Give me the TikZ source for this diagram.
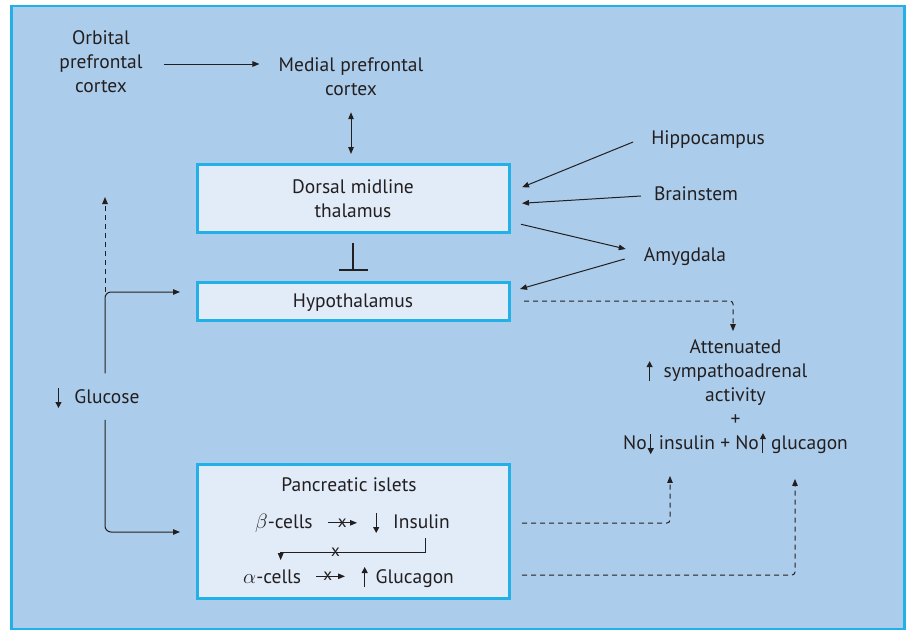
\documentclass[tikz,border=0pt]{standalone}
\usepackage{fontspec}
\setmainfont{PT Sans}
\usetikzlibrary{arrows.meta}
\definecolor{panel}{HTML}{ABCDEB}
\definecolor{rim}{HTML}{22B0E6}
\definecolor{boxfill}{HTML}{E1ECF8}
\definecolor{ink}{HTML}{231F20}
\newcommand{\dnarr}{\tikz[baseline=0pt]\draw[ink,line width=1.1pt,-{Triangle[length=6pt,width=6pt]}] (0,15pt) -- (0,-5pt);}
\newcommand{\uparr}{\tikz[baseline=0pt]\draw[ink,line width=1.1pt,-{Triangle[length=6pt,width=6pt]}] (0,-4pt) -- (0,16pt);}
\begin{document}
\begin{tikzpicture}[x=1pt,y=-1pt,ink,font=\fontsize{19.5}{24}\selectfont,
  txt/.style={inner sep=0pt,align=center},
  box/.style={draw=rim,fill=boxfill,line width=3pt,minimum width=312pt,inner sep=0pt,align=center},
  arr/.style={line width=1pt,-{Triangle[length=7pt,width=5.5pt]}},
  dbl/.style={line width=1pt,{Triangle[length=7pt,width=5.5pt]}-{Triangle[length=7pt,width=5.5pt]}},
  dsh/.style={arr,dash pattern=on 5pt off 4pt},
  cross/.style={inner sep=0pt,font=\fontsize{17}{17}\selectfont}]
	\useasboundingbox (0,0) rectangle (908,630);
	\draw[rim,fill=panel,line width=2.5pt] (11.5,6) rectangle (904.5,629);
	% boxes
	\node[box,minimum height=67.5pt] (thal) at (353,198.25) {Dorsal midline\\thalamus};
	\node[box,minimum height=38pt,text depth=0pt] (hypo) at (353,301) {Hypothalamus};
	\node[box,minimum height=134pt] (panc) at (353,531) {};
	% labels
	\node[txt] (orb) at (101,62) {Orbital\\prefrontal\\cortex};
	\node[txt] (mpfc) at (351,77) {Medial prefrontal\\cortex};
	\node[txt] (hippo) at (708,140) {Hippocampus};
	\node[txt] (brain) at (696,194) {Brainstem};
	\node[txt] (amyg) at (685,257) {Amygdala};
	\node[txt] (att) at (735.5,397) {Attenuated\\\llap{\uparr\hspace{11pt}}sympathoadrenal\\activity\\+\\No\hspace{1pt}\dnarr\ insulin + No\hspace{1pt}\uparr\ glucagon};
	\node[txt] (glu) at (107,398) {\llap{\dnarr\hspace{13pt}}Glucose};
	% islets
	\node[txt] (pi) at (349,485) {Pancreatic islets};
	\node[txt,anchor=base west] (beta) at (255,528) {$\beta$-cells};
	\node[txt,anchor=base west] (ins) at (373,528) {\dnarr\hspace{14pt}Insulin};
	\node[txt,anchor=base west] (alpha) at (243,583) {$\alpha$-cells};
	\node[txt,anchor=base west] (glc) at (361.5,583) {\uparr\hspace{8pt}Glucagon};
	% cortex and thalamus
	\coordinate (ofs) at ([yshift=-2pt]orb.east);
	\draw[arr,shorten <=21pt,shorten >=19pt] (ofs) -- (ofs -| mpfc.west);
	\draw[dbl,shorten <=16pt,shorten >=9pt] (mpfc.south) -- (mpfc.south |- thal.north);
	\draw[line width=1.6pt,-{Bar[width=29pt,line width=2pt]},shorten <=9.5pt,shorten >=9.5pt] (thal.south) -- (thal.south |- hypo.north);
	\draw[arr] ([xshift=-18pt,yshift=-2pt]hippo.west) -- ([xshift=11.5pt,yshift=11pt]thal.east);
	\draw[arr] ([xshift=-13pt,yshift=-2pt]brain.west) -- ([xshift=11.5pt,yshift=-5pt]thal.east);
	\draw[arr] ([xshift=10.5pt,yshift=-26pt]thal.east) -- ([xshift=-18pt,yshift=8pt]amyg.west);
	\draw[arr] ([xshift=-19pt,yshift=-2pt]amyg.west) -- ([xshift=9.5pt,yshift=12pt]hypo.east);
	% glucose
	\coordinate (gup) at (105,197);
	\coordinate (hyin) at ([xshift=-15.5pt,yshift=9pt]hypo.west);
	\coordinate (pcin) at ([xshift=-15.5pt,yshift=-1pt]panc.west);
	\draw[arr,rounded corners=6pt,shorten <=14pt] (glu.north -| gup) |- (hyin);
	\draw[dsh] (gup |- hyin) -- (gup);
	\draw[arr,rounded corners=6pt,shorten <=11pt] (glu.south -| gup) |- (pcin);
	% outputs
	\draw[dsh,rounded corners=3pt,shorten >=8pt] ([xshift=13.5pt]hypo.east) -| ([xshift=-2.5pt]att.north);
	\draw[dsh,rounded corners=3pt,shorten >=21pt] ([xshift=11.5pt,yshift=8pt]panc.east) -| ([xshift=-65.5pt]att.south);
	\draw[dsh,rounded corners=3pt,shorten >=24pt] ([xshift=11.5pt,yshift=-44pt]panc.east) -| ([xshift=59.5pt]att.south);
	% inside the islets
	\draw[arr,shorten <=15pt,shorten >=16pt] (beta.east) -- node[cross,pos=.49] (bx) {x} (beta.east -| ins.west);
	\draw[arr,shorten <=15pt,shorten >=16.5pt] (alpha.east) -- node[cross,pos=.44] (ax) {x} (alpha.east -| glc.west);
	\draw[arr,shorten >=9pt] ([xshift=-25pt,yshift=-4.5pt]ins.south east) -- ++(0,14) -| node[cross,pos=.31] (ix) {x} ([xshift=8.5pt]alpha.north);
\end{tikzpicture}
\end{document}
